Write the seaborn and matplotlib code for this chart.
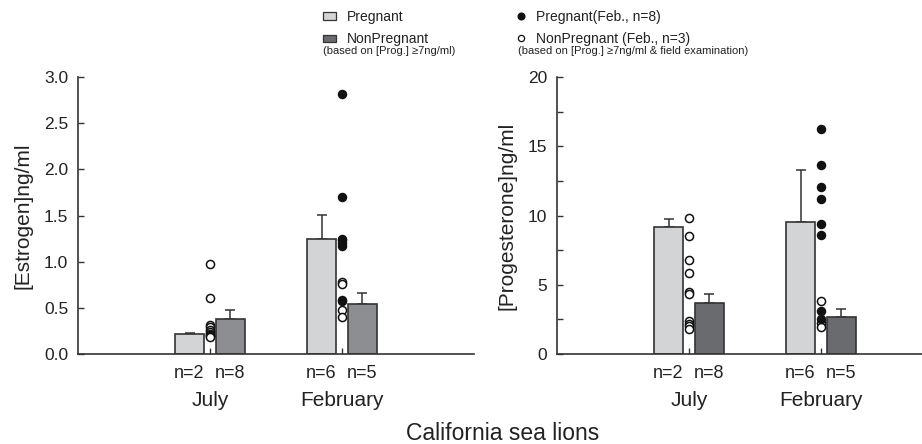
import numpy as np
import pandas as pd
import matplotlib
matplotlib.use("Agg")
import matplotlib.pyplot as plt
import seaborn as sns
from matplotlib.patches import Patch
from matplotlib.lines import Line2D

# ---------------- data ----------------
months = ["July", "February"]
groups = ["Pregnant", "NonPregnant"]
n_labels = [["n=2", "n=8"], ["n=6", "n=5"]]

est_mean_preg = [0.22, 1.25]
est_mean_non = [0.375, 0.545]
est_err_preg = [0.005, 0.26]
est_err_non = [0.10, 0.12]

prog_mean_preg = [9.15, 9.53]
prog_mean_non = [3.68, 2.65]
prog_err_preg = [0.62, 3.75]
prog_err_non = [0.68, 0.60]

est_july_open = [0.98, 0.61, 0.31, 0.29, 0.26, 0.24, 0.22, 0.21, 0.20, 0.18]
est_feb_filled = [2.82, 1.70, 1.25, 1.23, 1.20, 1.17, 0.59, 0.57]
est_feb_open = [0.78, 0.76, 0.48, 0.40]

prog_july_open = [9.82, 8.52, 6.79, 5.87, 4.45, 4.33, 2.41, 2.20, 2.05, 1.80]
prog_feb_filled = [16.27, 13.62, 12.06, 11.17, 9.36, 8.59, 3.10, 2.50]
prog_feb_open = [3.85, 2.24, 1.93]

est_ticks = [0.0, 0.5, 1.0, 1.5, 2.0, 2.5, 3.0]
prog_ticks = [0, 5, 10, 15, 20]
prog_minor = [2.5, 7.5, 12.5, 17.5]

# ---------------- style ----------------
sns.set_theme(style="ticks")
plt.rcParams["font.family"] = ["Liberation Sans", "DejaVu Sans"]
TXT = "#222222"
EDGE = "#333333"
LIGHT = "#d3d4d6"
MID = "#8d8e92"
DARK = "#6a6b6f"
plt.rcParams["text.color"] = TXT
plt.rcParams["axes.labelcolor"] = TXT
plt.rcParams["xtick.color"] = EDGE
plt.rcParams["ytick.color"] = EDGE
plt.rcParams["xtick.labelcolor"] = TXT
plt.rcParams["ytick.labelcolor"] = TXT
plt.rcParams["xtick.direction"] = "in"
plt.rcParams["ytick.direction"] = "in"

W, H = 922, 444
fig = plt.figure(figsize=(W / 100, H / 100), dpi=100)

BW = 0.62
GAP = 0.29
x_left_px, x_right_px = 78, 557
bottom_px, top_px = 354, 77
ax1 = fig.add_axes([x_left_px / W, 1 - bottom_px / H, 396 / W, (bottom_px - top_px) / H])
ax2 = fig.add_axes([x_right_px / W, 1 - bottom_px / H, (W - x_right_px) / W, (bottom_px - top_px) / H])


def panel(ax, mp, mn, ep, en, july_open, feb_filled, feb_open, non_color, ylim, major, minor, ylabel, fmt):
    df = pd.DataFrame({
        "month": months * 2,
        "group": [groups[0]] * 2 + [groups[1]] * 2,
        "value": list(mp) + list(mn),
    })
    sns.barplot(data=df, x="month", y="value", hue="group", order=months, hue_order=groups,
                palette=[LIGHT, non_color], width=BW, gap=GAP, errorbar=None,
                edgecolor=EDGE, linewidth=1.2, saturation=1, legend=False, ax=ax, zorder=2)
    off = BW / 4
    for hi, (means, errs) in enumerate([(mp, ep), (mn, en)]):
        xs = np.arange(len(months)) + (hi - 0.5) * 2 * off
        ax.errorbar(xs, means, yerr=[np.zeros(len(errs)), errs], fmt="none",
                    ecolor=EDGE, elinewidth=1.1, capsize=3.5, capthick=1.1, zorder=1)
    ax.scatter(np.zeros(len(july_open)), july_open, s=34, facecolor="white",
               edgecolor="#111111", linewidth=1.1, zorder=4, clip_on=False)
    ax.scatter(np.ones(len(feb_open)), feb_open, s=34, facecolor="white",
               edgecolor="#111111", linewidth=1.1, zorder=4, clip_on=False)
    ax.scatter(np.ones(len(feb_filled)), feb_filled, s=34, facecolor="#111111",
               edgecolor="#111111", linewidth=1.0, zorder=5, clip_on=False)

    ax.set_ylim(*ylim)
    ax.set_yticks(major)
    ax.set_yticklabels([fmt.format(v) for v in major], fontsize=12.5)
    if minor is not None:
        ax.set_yticks(minor, minor=True)
    ax.tick_params(axis="y", which="both", direction="in", length=4, width=1.0, pad=7)
    ax.tick_params(axis="x", which="both", direction="in", length=4, width=1.0, pad=27, labelsize=15)
    ax.set_xticks(range(len(months)))
    ax.set_xticklabels(months)
    ax.set_xlabel("")
    ax.set_ylabel(ylabel, fontsize=15, labelpad=8)
    for s in ["top", "right"]:
        ax.spines[s].set_visible(False)
    for s in ["left", "bottom"]:
        ax.spines[s].set_color(EDGE)
        ax.spines[s].set_linewidth(1.2)
    ax.set_facecolor("white")
    for mi in range(len(months)):
        for hi in range(2):
            ax.annotate(n_labels[mi][hi], xy=(mi + (hi - 0.5) * 2 * off, 0),
                        xycoords=("data", "axes fraction"), xytext=(0, -14),
                        textcoords="offset points", ha="center", va="center", fontsize=13)


panel(ax1, est_mean_preg, est_mean_non, est_err_preg, est_err_non,
      est_july_open, est_feb_filled, est_feb_open, MID, (0, 3.0),
      est_ticks, None, "[Estrogen]ng/ml", "{:.1f}")
ax1.set_xlim(-1, 2)

panel(ax2, prog_mean_preg, prog_mean_non, prog_err_preg, prog_err_non,
      prog_july_open, prog_feb_filled, prog_feb_open, DARK, (0, 20),
      prog_ticks, prog_minor, "[Progesterone]ng/ml", "{:.0f}")
ax2.set_xlim(-1, -1 + (W - x_right_px) / 132)

fig.text(503 / W, 1 - 433 / H, "California sea lions", ha="center", va="center", fontsize=16.5)

# ---------------- legends ----------------
leg1 = fig.legend(handles=[Patch(facecolor=LIGHT, edgecolor=EDGE, linewidth=0.9),
                           Patch(facecolor=DARK, edgecolor=EDGE, linewidth=0.9)],
                  labels=["Pregnant", "NonPregnant"], loc="upper left",
                  bbox_to_anchor=(323 / W, 1 - 10 / H), frameon=False, fontsize=10,
                  handlelength=0.95, handleheight=0.45, handletextpad=0.75,
                  labelspacing=0.6, borderpad=0, borderaxespad=0)
fig.text(323 / W, 1 - 51 / H, "(based on [Prog.] ≥7ng/ml)", ha="left", va="center", fontsize=8)

leg2 = fig.legend(handles=[Line2D([], [], ls="none", marker="o", markersize=4.8,
                                  markerfacecolor="#111111", markeredgecolor="#111111"),
                           Line2D([], [], ls="none", marker="o", markersize=4.5,
                                  markerfacecolor="white", markeredgecolor="#111111", markeredgewidth=0.9)],
                  labels=["Pregnant(Feb., n=8)", "NonPregnant (Feb., n=3)"], loc="upper left",
                  bbox_to_anchor=(517 / W, 1 - 10 / H), frameon=False, fontsize=10,
                  handlelength=0.6, handletextpad=0.75,
                  labelspacing=0.6, borderpad=0, borderaxespad=0)
fig.text(518 / W, 1 - 51 / H, "(based on [Prog.] ≥7ng/ml & field examination)",
         ha="left", va="center", fontsize=8)

fig.savefig("out.png", dpi=100, facecolor="white")
